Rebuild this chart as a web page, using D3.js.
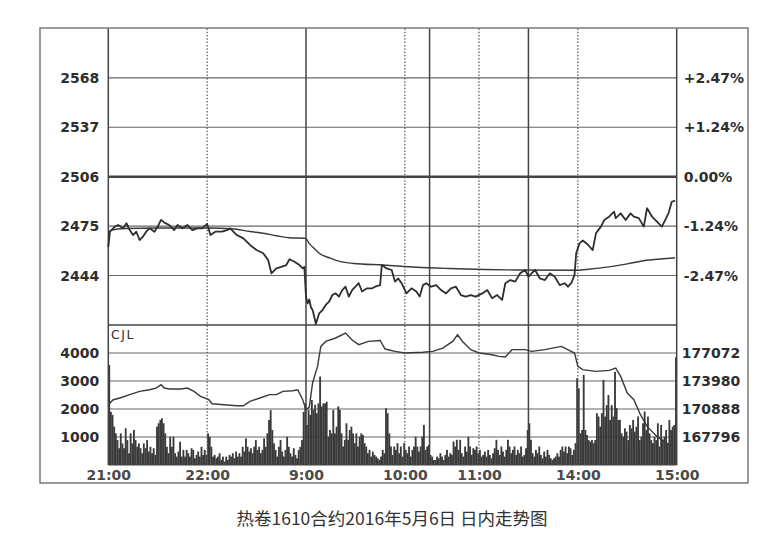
<!DOCTYPE html>
<html><head><meta charset="utf-8">
<script src="https://cdn.jsdelivr.net/npm/d3@7"></script>
<style>body{margin:0;background:#fff}svg{display:block}</style>
</head><body>
<svg id="c" width="769" height="542"></svg>
<script>
// ---- data ----
const timeTicks = [0, 60, 120, 180, 225, 285, 345];
const timeLabels = ["21:00", "22:00", "9:00", "10:00", "11:00", "14:00", "15:00"];
const solidBreaks = [120, 195, 255];
const dottedLines = [60, 180, 225, 285];
const basePrice = 2506;
const priceTicks = [2568, 2537, 2506, 2475, 2444];
const pctLabels = ["+2.47%", "+1.24%", "0.00%", "-1.24%", "-2.47%"];
const volTicks = [1000, 2000, 3000, 4000];
const oiTicks = [167796, 170888, 173980, 177072];

const priceMin = [0,1,4,6,9,11,13,15,17,19,21,23,25,28,30,32,34,37,40,42,45,48,51,54,57,60,62,65,69,72,74,78,82,86,90,94,97,99,102,105,108,110,113,116,118,119,
 120,121,122,123,124,125,126,128,130,132,134,136,138,140,142,144,146,148,150,152,154,157,160,162,165,166,169,172,174,176,178,181,184,187,189,191,193,196,199,202,205,208,211,214,217,220,223,227,230,233,236,239,241,244,247,250,253,255,259,262,265,268,271,274,277,279,281,283,284,286,288,291,294,296,299,301,304,307,308,311,314,317,319,322,325,327,330,333,336,338,340,342,344];
const priceVal = [2462,2471.5,2474.7,2475.7,2473.6,2476.8,2472.5,2469.4,2471.5,2466.3,2468.4,2471.5,2473.6,2471.5,2474.7,2478.9,2477.2,2475.7,2472.5,2475.7,2473.6,2475.7,2472.5,2473.6,2473.6,2476.4,2469.4,2471.5,2471.5,2472.5,2473.6,2469.4,2467.3,2463.2,2460,2458,2453.8,2445.4,2448.5,2449.5,2450.6,2454.2,2452.7,2450.6,2448.5,2449.5,
 2430.8,2426.6,2429,2424,2422.4,2418.2,2413.6,2420.3,2422.4,2425.6,2427.7,2431.8,2432.8,2430.8,2434.9,2437,2430.8,2434.9,2437,2439.2,2434,2436,2436,2437,2438,2450.6,2448.5,2447.5,2440.2,2442.2,2439.2,2432.8,2436,2434,2430.8,2438,2439.2,2437,2438,2434.9,2432.8,2436,2437,2431.8,2430.8,2431.8,2430.8,2432.8,2434.9,2429.7,2431.8,2428.7,2439.2,2441.2,2440.2,2445.4,2447.5,2443.3,2447.5,2442.2,2441.2,2445.4,2443.3,2438,2439.2,2437,2439.2,2444.4,2458,2464.2,2466,2463.5,2460,2470.5,2474.7,2478.8,2480.9,2484.1,2480,2483,2478.8,2483,2480.9,2480,2474.7,2486.2,2481,2477.8,2474.7,2478.8,2483,2490.3,2491];

const avgMin = [0,2,10,30,60,75,86,94,102,110,119,120,122,125,128,135,141,149,167,187,207,228,248,284,290,305,315,325,335,344];
const avgVal = [2471,2472.5,2473.5,2473.8,2473.8,2473.4,2471.6,2470.5,2469,2467.7,2467.4,2467.2,2464,2461,2458,2454.8,2452.7,2451.6,2450.6,2449.2,2448.4,2447.8,2447.5,2447.3,2447.8,2449.6,2451.3,2453.3,2454.4,2455.2];

const volNight = [3570,1900,1790,1370,1130,890,600,1130,770,600,1310,890,420,1130,770,1250,890,650,770,600,420,770,600,890,480,650,420,600,360,1370,1490,1610,1670,1490,1130,650,420,1010,650,1010,420,300,480,830,300,540,300,540,420,300,600,540,240,360,480,300,650,360,540,360,1130,1010,650,300,360,240,300,420,180,300,120,300,180,360,300,420,240,480,300,420,300,650,480,950,650,480,600,420,650,890,540,650,420,540,950,650,1130,1610,1960,1250,770,540,300,650,890,480,300,540,1010,650,420,300,600,360,240,540,650,890,1900,2200];
const volDay = [1430,1970,1790,2320,1970,2150,1850,2200,3160,2090,2200,2200,2260,1010,1250,1130,1970,1130,1370,2090,1970,1130,660,900,1490,900,1250,1370,1130,780,1130,660,1010,1130,1070,780,660,420,540,300,480,360,300,240,180,300,540,420,2030,1850,1130,660,360,660,540,780,420,660,300,780,540,420,660,300,540,660,1010,660,480,660,1010,1430,540,660,720,360,300,180,180,300,240,420,300,180,360,540,300,420,360,840,660,900,540,900,420,300,660,480,1010,660,360,600,540,660,420,540,300,360,480,300,540,360,240,420,600,900,540,360,660,480,300,540,900,660,420,540,660,360,540,420,660,300,360,600,1250,1490,900,420,300,540,420,660,360,240,480,300,540,360,240,180,240,300,420,300,540,660,480,660,420,660,600,360,540,780,
 3100,2740,1130,1250,3220,1250,1070,890,830,890,780,890,1850,1730,1370,1850,3040,1730,2140,2500,1610,2140,1730,3330,2030,1610,1610,1130,1010,1310,1190,890,1430,1310,1610,1190,1370,1730,890,1010,1490,1910,1250,1730,1130,890,780,1010,890,1490,660,1430,890,1010,1250,780,1610,1250,1370,1430,3850];

const oiMin = [0,1,3,7,13,19,25,29,32,34,37,44,48,52,56,61,63,70,78,82,86,92,98,102,106,112,115,118,120,122,124,127,129,132,138,144,148,152,158,165,168,174,180,191,197,203,209,212,215,220,225,233,237,241,245,253,257,265,275,283,285,288,296,304,308,311,315,319,323,327,333,339,343];
const oiVal = [171900,171550,171915,172100,172470,172830,173020,173200,173570,173200,173100,173100,173200,172830,172280,171915,171470,171360,171250,171250,171730,172100,172470,172470,172830,172900,173020,171915,170810,171100,173760,175590,177800,178350,178730,179280,178500,177990,178350,178460,177510,177250,177070,177150,177250,177620,178350,179090,178350,177440,177070,176880,176700,176630,177440,177440,177250,177440,177800,177070,175590,175230,175040,175150,175410,174490,172650,171920,170260,168970,167860,167130,166760];

// ---- layout ----
const svg = d3.select("#c");
const L = 108.3, R = 676.7, T = 28.4, PB = 325, VB = 465;
const x = d3.scaleLinear().domain([0, 345]).range([L, R]);
const yP = d3.scaleLinear().domain([2413, 2599]).range([PB, T]);
const yV = d3.scaleLinear().domain([0, 5000]).range([VB, PB]);
const yOI = d3.scaleLinear().domain([164704, 180164]).range([VB, PB]);
const vol = volNight.concat(volDay);
const ink = "#2e2e2e", grid = "#666";
const numFont = "'DejaVu Sans', Verdana, sans-serif";

// outer frame
svg.append("rect").attr("x", 40).attr("y", 28).attr("width", 708).attr("height", 455)
  .attr("fill", "none").attr("stroke", "#666").attr("stroke-width", 1.3);

// horizontal grid (price)
svg.append("g").selectAll("line").data(priceTicks).join("line")
  .attr("x1", L).attr("x2", R).attr("y1", d => yP(d)).attr("y2", d => yP(d))
  .attr("stroke", d => d === basePrice ? "#444" : grid)
  .attr("stroke-width", d => d === basePrice ? 2.6 : 1.1);
// volume grid
svg.append("g").selectAll("line").data(volTicks).join("line")
  .attr("x1", L).attr("x2", R).attr("y1", d => yV(d)).attr("y2", d => yV(d))
  .attr("stroke", grid).attr("stroke-width", 1.1);

// volume bars
svg.append("g").selectAll("rect").data(vol).join("rect")
  .attr("x", (d, i) => x(i)).attr("width", x(1) - x(0) + 0.2)
  .attr("y", d => yV(d)).attr("height", d => VB - yV(d))
  .attr("fill", "#3a3a3a");

// vertical lines
svg.append("g").selectAll("line").data(dottedLines).join("line")
  .attr("x1", d => x(d)).attr("x2", d => x(d)).attr("y1", T).attr("y2", VB)
  .attr("stroke", "#555").attr("stroke-width", 1.2).attr("stroke-dasharray", "1.5,1.8");
svg.append("g").selectAll("line").data(solidBreaks).join("line")
  .attr("x1", d => x(d)).attr("x2", d => x(d)).attr("y1", T).attr("y2", VB)
  .attr("stroke", "#444").attr("stroke-width", 1.5);

// panel borders
svg.append("line").attr("x1", L).attr("x2", L).attr("y1", T).attr("y2", VB).attr("stroke", "#444").attr("stroke-width", 1.5);
svg.append("line").attr("x1", R).attr("x2", R).attr("y1", T).attr("y2", VB).attr("stroke", "#444").attr("stroke-width", 1.5);
svg.append("line").attr("x1", L).attr("x2", R).attr("y1", PB).attr("y2", PB).attr("stroke", "#444").attr("stroke-width", 1.6);
svg.append("line").attr("x1", L).attr("x2", R).attr("y1", VB).attr("y2", VB).attr("stroke", "#444").attr("stroke-width", 1.2);

// average line
svg.append("path").datum(avgMin.map((m, i) => [m, avgVal[i]]))
  .attr("fill", "none").attr("stroke", "#3a3a3a").attr("stroke-width", 1.4)
  .attr("d", d3.line().x(d => x(d[0])).y(d => yP(d[1])).curve(d3.curveMonotoneX));
// price line
svg.append("path").datum(priceMin.map((m, i) => [m, priceVal[i]]))
  .attr("fill", "none").attr("stroke", ink).attr("stroke-width", 1.8).attr("stroke-linejoin", "round")
  .attr("d", d3.line().x(d => x(d[0])).y(d => yP(d[1])));
// open interest line
svg.append("path").datum(oiMin.map((m, i) => [m, oiVal[i]]))
  .attr("fill", "none").attr("stroke", "#3a3a3a").attr("stroke-width", 1.4)
  .attr("d", d3.line().x(d => x(d[0])).y(d => yOI(d[1])));

// axes
function styleAxis(g, size) {
  g.select(".domain").remove();
  g.selectAll(".tick line").remove();
  g.selectAll("text").attr("font-family", numFont).attr("font-weight", "bold")
    .attr("font-size", size).attr("fill", ink);
}
svg.append("g").attr("transform", `translate(${L},0)`)
  .call(d3.axisLeft(yP).tickValues(priceTicks).tickSize(0).tickPadding(9).tickFormat(d3.format("d")))
  .call(g => styleAxis(g, 14));
svg.append("g").attr("transform", `translate(${R},0)`)
  .call(d3.axisRight(yP).tickValues(priceTicks).tickSize(0).tickPadding(7).tickFormat((d, i) => pctLabels[i]))
  .call(g => styleAxis(g, 14));
svg.append("g").attr("transform", `translate(${L},0)`)
  .call(d3.axisLeft(yV).tickValues(volTicks).tickSize(0).tickPadding(9).tickFormat(d3.format("d")))
  .call(g => styleAxis(g, 14));
svg.append("g").attr("transform", `translate(${R},0)`)
  .call(d3.axisRight(yOI).tickValues(oiTicks).tickSize(0).tickPadding(5).tickFormat(d3.format("d")))
  .call(g => styleAxis(g, 14));
svg.append("g").attr("transform", `translate(0,${VB})`)
  .call(d3.axisBottom(x).tickValues(timeTicks).tickSize(0).tickPadding(5).tickFormat((d, i) => timeLabels[i]))
  .call(g => { styleAxis(g, 14); g.selectAll("text").attr("fill", "#4a4a4a"); });

// CJL label
svg.append("text").attr("x", 111).attr("y", 339).text("CJL")
  .attr("font-family", numFont).attr("font-size", 12.5).attr("letter-spacing", 1.5).attr("fill", ink);

// title
svg.append("text").attr("x", 392).attr("y", 525).attr("text-anchor", "middle")
  .text("热卷1610合约2016年5月6日 日内走势图")
  .attr("font-family", "'Noto Sans CJK SC', sans-serif").attr("font-size", 17.5).attr("fill", "#333");
</script>
</body></html>
